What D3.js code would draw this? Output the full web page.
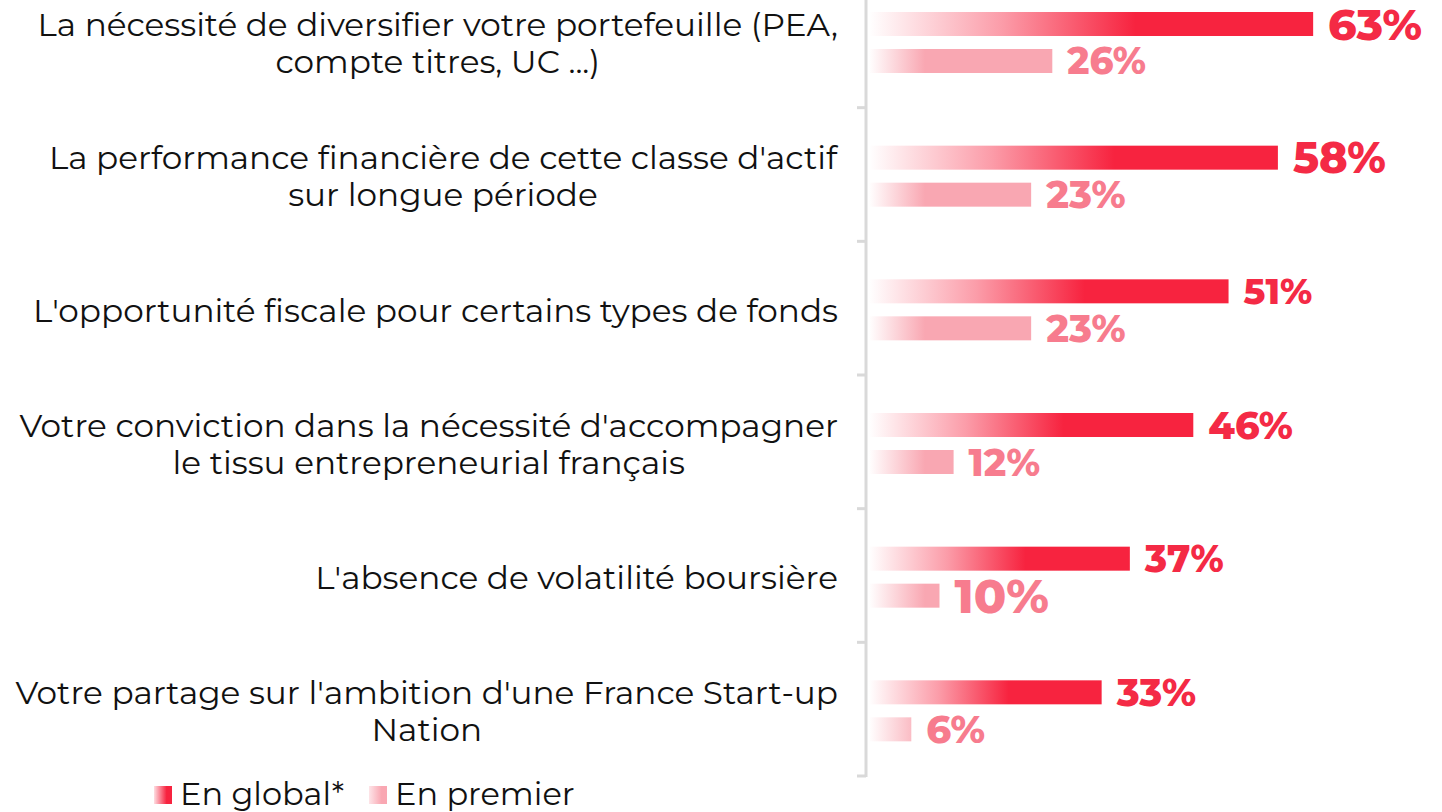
<!DOCTYPE html>
<html>
<head>
<meta charset="utf-8">
<script src="https://cdn.jsdelivr.net/npm/d3@7"></script>
<style>
  html, body { margin: 0; padding: 0; background: #fff; }
  svg { display: block; }
</style>
</head>
<body>
<div id="chart"></div>
<script>
// data
const categories = [
    ["La nécessité de diversifier votre portefeuille (PEA,", "compte titres, UC ...)"],
    ["La performance financière de cette classe d'actif", "sur longue période"],
    ["L'opportunité fiscale pour certains types de fonds"],
    ["Votre conviction dans la nécessité d'accompagner", "le tissu entrepreneurial français"],
    ["L'absence de volatilité boursière"],
    ["Votre partage sur l'ambition d'une France Start-up", "Nation"]
];
const enGlobal = [63, 58, 51, 46, 37, 33];
const enPremier = [26, 23, 23, 12, 10, 6];
const seriesNames = ["En global*", "En premier"];

// label sizes as they appear in the original
const globalLabelSize = [44, 43, 36, 38, 37, 38];
const premierLabelSize = [37, 38, 38, 37.5, 47.5, 38.5];

const width = 1442, height = 812;
const red = "#f7233f", pink = "#f9a7b2";
const redText = "#f42a45", pinkText = "#f77c8e";
const labelFont = "Montserrat, 'DejaVu Sans', sans-serif";
const numFont = "Montserrat, Inter, 'Open Sans', sans-serif";

const svg = d3.select("#chart").append("svg")
    .attr("width", width)
    .attr("height", height);

const defs = svg.append("defs");
const gGrad = defs.append("linearGradient").attr("id", "gradGlobal")
    .attr("x1", 0).attr("x2", 1).attr("y1", 0).attr("y2", 0);
gGrad.append("stop").attr("offset", 0).attr("stop-color", red).attr("stop-opacity", 0);
gGrad.append("stop").attr("offset", 0.3).attr("stop-color", red).attr("stop-opacity", 0.45);
gGrad.append("stop").attr("offset", 0.6).attr("stop-color", red).attr("stop-opacity", 1);
gGrad.append("stop").attr("offset", 1).attr("stop-color", red).attr("stop-opacity", 1);

const pGrad = defs.append("linearGradient").attr("id", "gradPremier")
    .attr("gradientUnits", "userSpaceOnUse")
    .attr("x1", 869).attr("x2", 925).attr("y1", 0).attr("y2", 0);
pGrad.append("stop").attr("offset", 0).attr("stop-color", pink).attr("stop-opacity", 0);
pGrad.append("stop").attr("offset", 1).attr("stop-color", pink).attr("stop-opacity", 1);

// legend swatch gradients
const lg1 = defs.append("linearGradient").attr("id", "legGlobal");
lg1.append("stop").attr("offset", 0).attr("stop-color", red).attr("stop-opacity", 0.15);
lg1.append("stop").attr("offset", 0.7).attr("stop-color", red);
const lg2 = defs.append("linearGradient").attr("id", "legPremier");
lg2.append("stop").attr("offset", 0).attr("stop-color", pink).attr("stop-opacity", 0.3);
lg2.append("stop").attr("offset", 0.7).attr("stop-color", pink);

// scales
const y = d3.scaleBand()
    .domain(d3.range(categories.length))
    .range([-26, 776])
    .paddingInner(0).paddingOuter(0);

const ySub = d3.scaleBand()
    .domain(["global", "premier"])
    .range([38, 99])
    .paddingInner(13 / 37).paddingOuter(0);

const x = d3.scaleLinear()
    .domain([0, 100])
    .range([869, 869 + 705]);

// axis line + ticks between categories
const axisX = 866;
svg.append("line")
    .attr("x1", axisX).attr("x2", axisX)
    .attr("y1", 0).attr("y2", y.range()[1] + 1)
    .attr("stroke", "#d9d9d9").attr("stroke-width", 3);

const bounds = y.domain().map(d => y(d) + y.bandwidth());
svg.selectAll(".tickmark")
    .data(bounds)
    .join("line")
    .attr("class", "tickmark")
    .attr("x1", 857).attr("x2", axisX)
    .attr("y1", d => d).attr("y2", d => d)
    .attr("stroke", "#d9d9d9").attr("stroke-width", 3);

// category labels
const labels = svg.selectAll(".cat")
    .data(categories)
    .join("text")
    .attr("class", "cat")
    .attr("text-anchor", "middle")
    .style("font-family", labelFont)
    .style("font-size", "32.7px")
    .attr("fill", "#111");

const lineH = 37;
labels.each(function(lines, i) {
    const t = d3.select(this);
    const cy = y(i) + y.bandwidth() / 2 + 2;
    const top = cy - (lines.length - 1) * lineH / 2;
    lines.forEach((l, j) => {
        t.append("tspan")
            .attr("x", 0)
            .attr("y", top + j * lineH)
            .attr("dy", "0.35em")
            .text(l);
    });
});
// right edge of the block at x=838, lines centred in block
labels.each(function() {
    const t = d3.select(this);
    const w = this.getBBox().width;
    t.attr("transform", `translate(${838 - w / 2},0)`);
});

// bars
const groups = svg.selectAll(".cat-g")
    .data(categories.map((c, i) => i))
    .join("g")
    .attr("class", "cat-g")
    .attr("transform", i => `translate(0,${y(i)})`);

groups.append("rect")
    .attr("x", x(0))
    .attr("y", ySub("global"))
    .attr("width", i => x(enGlobal[i]) - x(0))
    .attr("height", ySub.bandwidth())
    .attr("fill", "url(#gradGlobal)");

groups.append("rect")
    .attr("x", x(0))
    .attr("y", ySub("premier"))
    .attr("width", i => x(enPremier[i]) - x(0))
    .attr("height", ySub.bandwidth())
    .attr("fill", "url(#gradPremier)");

function placeLabel(sel) {
    // keep value labels inside the picture
    sel.each(function() {
        const t = d3.select(this);
        const w = this.getComputedTextLength();
        const x0 = +t.attr("x");
        t.attr("x", Math.min(x0, width - 20 - w));
    });
}

groups.append("text")
    .attr("x", i => x(enGlobal[i]) + 15)
    .attr("y", ySub("global") + ySub.bandwidth() / 2)
    .attr("dy", "0.36em")
    .style("font-family", numFont)
    .style("font-weight", 800)
    .style("font-size", i => globalLabelSize[i] + "px")
    .attr("fill", redText)
    .text(i => enGlobal[i] + "%")
    .call(placeLabel);

groups.append("text")
    .attr("x", i => x(enPremier[i]) + 15)
    .attr("y", ySub("premier") + ySub.bandwidth() / 2)
    .attr("dy", "0.36em")
    .style("font-family", numFont)
    .style("font-weight", 800)
    .style("font-size", i => premierLabelSize[i] + "px")
    .attr("fill", pinkText)
    .text(i => enPremier[i] + "%");

// legend
const legend = svg.append("g").attr("transform", "translate(154,793)");
const legX = [0, 215];
const legFill = ["url(#legGlobal)", "url(#legPremier)"];
seriesNames.forEach((name, i) => {
    const g = legend.append("g").attr("transform", `translate(${legX[i]},0)`);
    g.append("rect")
        .attr("x", 0).attr("y", -7)
        .attr("width", 18).attr("height", 18)
        .attr("fill", legFill[i]);
    g.append("text")
        .attr("x", 26).attr("y", 0).attr("dy", "0.36em")
        .style("font-family", labelFont)
        .style("font-size", "32px")
        .attr("fill", "#111")
        .text(name);
});
</script>
</body>
</html>
